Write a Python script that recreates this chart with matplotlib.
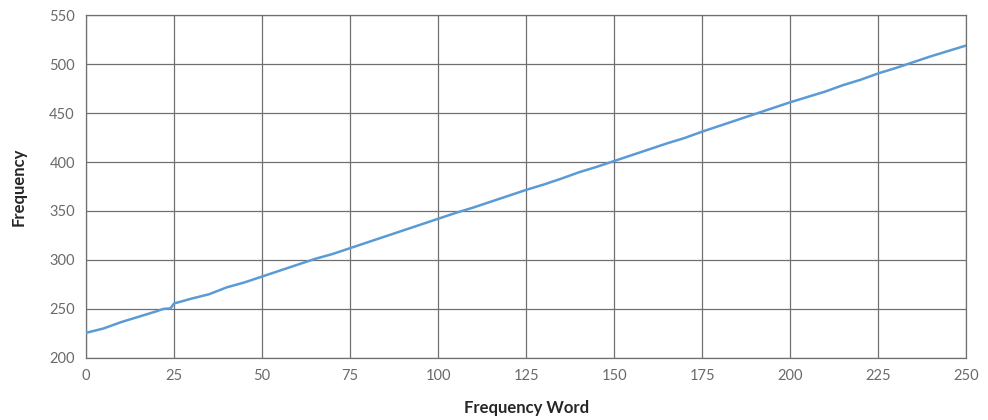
import matplotlib
matplotlib.use('Agg')
import matplotlib.pyplot as plt

# values
word = [0, 5, 10, 15, 20, 22, 24, 25, 30, 35, 40, 45, 50, 55, 60, 65, 70, 75,
        80, 85, 90, 95, 100, 105, 110, 115, 120, 125, 130, 135, 140, 145, 150,
        155, 160, 165, 170, 175, 180, 185, 190, 195, 200, 205, 210, 215, 220,
        225, 230, 235, 240, 245, 250]
freq = [225.5, 230, 236.5, 242, 247.5, 250, 250.5, 255.5, 260.5, 265, 272, 277,
        283, 289, 295, 301, 306, 312, 318, 324, 330, 336, 342, 348, 353.5,
        359.5, 365.5, 371.5, 377, 383, 389.5, 395, 401, 407, 413, 419, 424.5,
        431, 437, 443, 449, 455, 461, 466.5, 472, 478.5, 484, 490.5, 496, 502,
        508, 513.5, 519]
x_ticks = list(range(0, 251, 25))
y_ticks = list(range(200, 551, 50))

plt.rcParams['font.family'] = ['Lato', 'DejaVu Sans']

fig = plt.figure(figsize=(9.88, 4.2), dpi=100)
ax = fig.add_axes([0.087, 0.148, 0.891, 0.816])

ax.plot(word, freq, color='#5B9BD5', linewidth=1.8, zorder=3)

ax.set_xlim(0, 250)
ax.set_ylim(200, 550)
ax.set_xticks(x_ticks)
ax.set_yticks(y_ticks)
ax.grid(True, color='#707070', linewidth=0.9)
ax.set_axisbelow(True)
for s in ax.spines.values():
    s.set_color('#707070')
    s.set_linewidth(0.9)

ax.tick_params(axis='both', length=0, labelsize=10.5, labelcolor='#6a6a6a', pad=8)

ax.set_xlabel('Frequency Word', fontsize=12, fontweight='bold', color='#262626', labelpad=12)
ax.set_ylabel('Frequency', fontsize=12, fontweight='bold', color='#262626', labelpad=16)

fig.savefig('out.png', dpi=100, facecolor='white')
